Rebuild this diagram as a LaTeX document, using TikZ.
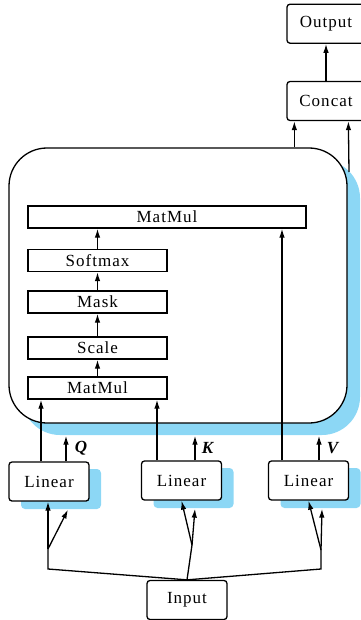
\documentclass[tikz,border=0pt]{standalone}
\usepackage{fontspec}
\setmainfont{Liberation Serif}[LetterSpace=6]
\usetikzlibrary{arrows.meta, positioning}
\definecolor{shadecol}{RGB}{140,215,245}
\tikzstyle{every node}=[font=\fontsize{17}{20}\selectfont]
\tikzstyle{rbox}=[draw, fill=white, rounded corners=3pt, minimum width=80pt, minimum height=39pt, inner sep=0pt]
\tikzstyle{shadowbox}=[fill=shadecol, rounded corners=4pt, minimum width=80pt, minimum height=40pt, inner sep=0pt]
\tikzstyle{layer}=[draw, fill=white, minimum height=22pt, inner sep=0pt]

\begin{document}
\begin{tikzpicture}[x=1pt, y=-1pt, line width=1.3pt, >={Latex[length=9pt,width=5.5pt]}]
  \useasboundingbox (0,0) rectangle (360,620);
  % attention block
  \node[fill=shadecol, rounded corners=38pt, minimum width=338pt, minimum height=275pt] (attnS) at (191,297.5) {};
  \node[draw, fill=white, rounded corners=38pt, minimum width=338pt, minimum height=275pt] (attn) at (178,285.5) {};
  \node[layer, minimum width=278pt] (mm2) at (167,217) {MatMul};
  \node[layer, minimum width=139pt] (soft) at (97.5,260.5) {Softmax};
  \node[layer, minimum width=139pt] (mask) at (97.5,302) {Mask};
  \node[layer, minimum width=139pt] (scale) at (97.5,348) {Scale};
  \node[layer, minimum width=139pt] (mm1) at (97.5,388) {MatMul};
  \draw[->] (mm1) -- (scale);
  \draw[->] (scale) -- (mask);
  \draw[->] (mask) -- (soft);
  \draw[->] (soft.north) -- (soft.north |- mm2.south);

  % linear layers
  \node[shadowbox] (qS) at (61,489) {};
  \node[rbox] (linQ) at (49,481.5) {Linear};
  \node[shadowbox] (kS) at (193.5,488) {};
  \node[rbox] (linK) at (181.5,480.5) {Linear};
  \node[shadowbox] (vS) at (320.5,488) {};
  \node[rbox] (linV) at (308.5,480.5) {Linear};
  \node[rbox] (input) at (187,600) {Input};

  % output side
  \node[rbox, minimum width=78pt] (concat) at (326,101) {Concat};
  \node[rbox, minimum width=78pt, above=37pt of concat] (output) {Output};
  \draw[->] (concat) -- (output);
  \coordinate (cin1) at ([xshift=8pt]concat.south west);
  \coordinate (cin2) at ([xshift=62pt]concat.south west);
  \coordinate (vout) at (349,172);
  \draw[->] (attn.north -| cin1) -- (cin1);
  \draw[->] (vout) -- (cin2);

  % into the block
  \draw[->] ([xshift=-8pt]linQ.north) -- ([xshift=-8pt]linQ.north |- mm1.south);
  \draw[->] ([xshift=-24.5pt]linK.north) -- ([xshift=-24.5pt]linK.north |- mm1.south);
  \draw[->] ([xshift=-26.5pt]linV.north) -- ([xshift=-26.5pt]linV.north |- mm2.south);
  \draw[->] ([xshift=17pt]linQ.north) -- ([xshift=17pt]linQ.north |- attnS.south)
    node[midway, right=5pt] {\textbf{\textit{Q}}};
  \draw[->] ([xshift=13.5pt]linK.north) -- ([xshift=13.5pt]linK.north |- attnS.south)
    node[midway, right=3pt] {\textbf{\textit{K}}};
  \draw[->] ([xshift=10.5pt]linV.north) -- ([xshift=10.5pt]linV.north |- attnS.south)
    node[midway, right=4pt] {\textbf{\textit{V}}};

  % from input
  \coordinate (cornerQ) at (48,569);
  \coordinate (splitQ) at (48,549);
  \coordinate (splitK) at (192,545);
  \coordinate (cornerV) at (321,569);
  \coordinate (splitV) at (321,550);
  \draw (input.north) -- (cornerQ) -- (splitQ);
  \draw (input.north) -- (splitK);
  \draw (input.north) -- (cornerV) -- (splitV);
  \draw[->] (splitQ) -- (splitQ |- linQ.south);
  \draw[->] (splitQ) -- ([xshift=7pt]qS.south);
  \draw[->] (splitK) -- (linK.south);
  \draw[->] (splitK) -- ([xshift=1.5pt]kS.south);
  \draw[->] (splitV) -- (linV.south);
  \draw[->] (splitV) -- ([xshift=1.5pt]vS.south);
\end{tikzpicture}
\end{document}
